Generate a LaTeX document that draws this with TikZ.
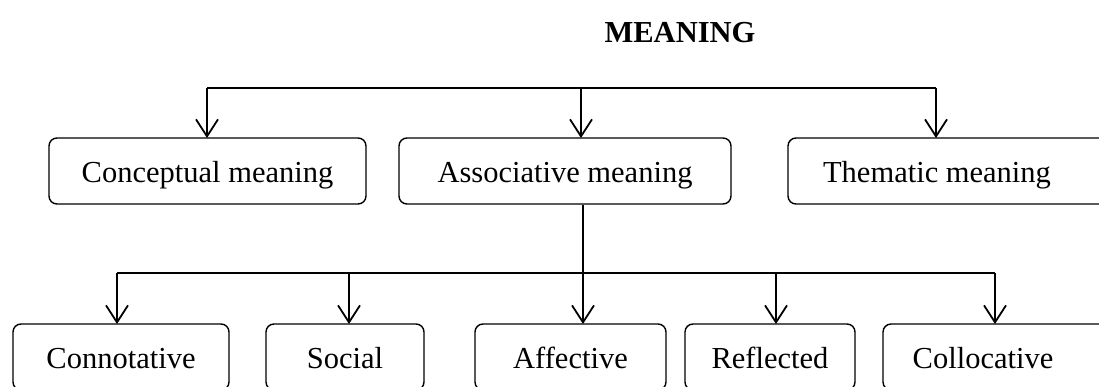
\documentclass[tikz,border=0pt]{standalone}
\usepackage{fontspec}
\setmainfont{Liberation Serif}
\usetikzlibrary{arrows.meta}
\begin{document}
\begin{tikzpicture}[x=1pt,y=-1pt,
  box/.style={draw, rounded corners=8pt, line width=1.4pt, minimum height=66pt,
    inner sep=0pt, text height=22pt, text depth=0pt, font=\fontsize{30.5}{37}\selectfont},
  lbl/.style={inner sep=0pt, text height=22pt, text depth=0pt, font=\fontsize{30.5}{37}\selectfont},
  conn/.style={line width=1.8pt},
  arr/.style={line width=1.8pt, -{Straight Barb[length=17pt,width=22pt,line width=1.8pt]}}]
\clip (0,0) rectangle (1099,386);
\node[lbl, font=\fontsize{30.5}{37}\selectfont\bfseries] (meaning) at (680,31) {MEANING};
% top row
\node[box, minimum width=317pt] (conc) at (207.5,171) {Conceptual meaning};
\node[box, minimum width=332pt] (assoc) at (565,171) {Associative meaning};
\node[box, minimum width=322pt] (them) at (949,171) {};
\node[lbl] (themt) at (937,171) {Thematic meaning};
% bottom row
\node[box, minimum width=216pt] (cnt) at (121,357) {Connotative};
\node[box, minimum width=158pt] (soc) at (345,357) {Social};
\node[box, minimum width=191pt] (aff) at (570.5,357) {Affective};
\node[box, minimum width=170pt] (refl) at (770,357) {Reflected};
\node[box, minimum width=227pt] (coll) at (996.5,357) {};
\node[lbl] (collt) at (983,357) {Collocative};
% top bus
\coordinate (tb) at (0,88);
\coordinate (tc) at (207,138);
\coordinate (ta) at (581,138);
\coordinate (tt) at (936,138);
\draw[conn] (tc |- tb) -- (tt |- tb);
\draw[arr] (tc |- tb) -- (tc);
\draw[arr] (ta |- tb) -- (ta);
\draw[arr] (tt |- tb) -- (tt);
% bottom bus
\coordinate (bb) at (0,273);
\coordinate (a1) at (117,324);
\coordinate (a2) at (349,324);
\coordinate (a3) at (583,324);
\coordinate (a4) at (776,324);
\coordinate (a5) at (995,324);
\draw[conn] (a1 |- bb) -- (a5 |- bb);
\draw[arr] (a3 |- assoc.south) -- (a3);
\draw[arr] (a1 |- bb) -- (a1);
\draw[arr] (a2 |- bb) -- (a2);
\draw[arr] (a4 |- bb) -- (a4);
\draw[arr] (a5 |- bb) -- (a5);
\end{tikzpicture}
\end{document}
